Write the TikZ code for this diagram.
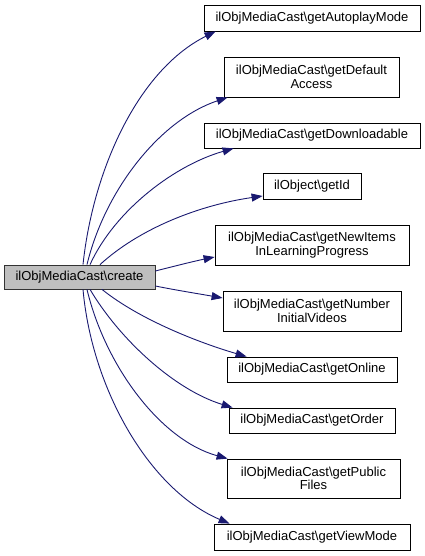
\documentclass[tikz,border=0pt]{standalone}
\usepackage{fontspec}
\setmainfont{Liberation Sans}
\usetikzlibrary{arrows.meta}
\definecolor{edgec}{HTML}{191970}
\definecolor{rootfill}{HTML}{BFBFBF}
\begin{document}
\begin{tikzpicture}[x=1pt,y=-1pt,
  box/.style={draw=black, line width=0.8pt, fill=white, inner sep=0pt, align=center,
    font=\fontsize{13}{13.5}\selectfont},
  edge/.style={draw=edgec, line width=0.9pt, -{Triangle[length=11pt,width=8pt]}, color=edgec}]
\useasboundingbox (0,0) rectangle (425,556);
\node[box, fill=rootfill, draw=black!80, minimum width=151pt, minimum height=24pt] (root) at (79.5,277) {ilObjMediaCast\textbackslash create};
\node[box, minimum width=216pt, minimum height=26pt] (A) at (312,18) {ilObjMediaCast\textbackslash getAutoplayMode};
\node[box, minimum width=175pt, minimum height=40pt] (B) at (311.5,77) {ilObjMediaCast\textbackslash getDefault\\Access};
\node[box, minimum width=216pt, minimum height=25pt] (C) at (312,135.5) {ilObjMediaCast\textbackslash getDownloadable};
\node[box, minimum width=98pt, minimum height=26pt] (D) at (312,186) {ilObject\textbackslash getId};
\node[box, minimum width=194pt, minimum height=40pt] (E) at (312,245) {ilObjMediaCast\textbackslash getNewItems\\InLearningProgress};
\node[box, minimum width=178pt, minimum height=40pt] (F) at (312,311) {ilObjMediaCast\textbackslash getNumber\\InitialVideos};
\node[box, minimum width=170pt, minimum height=25pt] (G) at (312,369.5) {ilObjMediaCast\textbackslash getOnline};
\node[box, minimum width=166pt, minimum height=25pt] (H) at (312,420.5) {ilObjMediaCast\textbackslash getOrder};
\node[box, minimum width=173pt, minimum height=39pt] (I) at (313.5,478.5) {ilObjMediaCast\textbackslash getPublic\\Files};
\node[box, minimum width=196pt, minimum height=26pt] (J) at (312,537) {ilObjMediaCast\textbackslash getViewMode};

\draw[edge] ([xshift=3.5pt]root.north) .. controls (93,170) and (138,70) .. ([xshift=12pt]A.south west);
\draw[edge] ([xshift=7.5pt]root.north) .. controls (105,190) and (160,120) .. ([xshift=4pt]B.south west);
\draw[edge] ([xshift=10.5pt]root.north) .. controls (115,210) and (175,165) .. ([xshift=30pt]C.south west);
\draw[edge] ([xshift=20.5pt]root.north) .. controls (140,228) and (200,205) .. ([yshift=-10pt]D.west);
\draw[edge] ([yshift=6pt]root.east) .. controls (175,266) and (195,261) .. ([yshift=-12pt]E.west);
\draw[edge] ([yshift=-9pt]root.east) .. controls (175,290) and (200,294) .. ([yshift=13pt]F.west);
\draw[edge] ([xshift=22.5pt]root.south) .. controls (140,320) and (200,343) .. ([xshift=20pt]G.north west);
\draw[edge] ([xshift=10.5pt]root.south) .. controls (120,340) and (175,390) .. ([xshift=4pt]H.north west);
\draw[edge] ([xshift=7.5pt]root.south) .. controls (105,365) and (160,440) .. ([xshift=1pt]I.north west);
\draw[edge] ([xshift=3.5pt]root.south) .. controls (92,390) and (150,490) .. ([xshift=16pt]J.north west);
\end{tikzpicture}
\end{document}
